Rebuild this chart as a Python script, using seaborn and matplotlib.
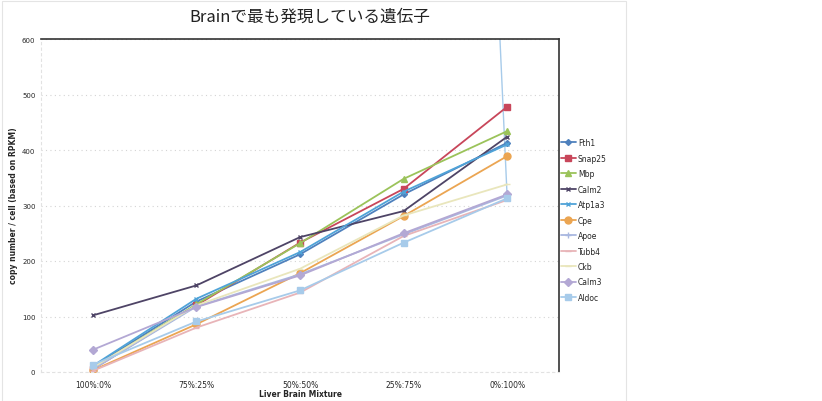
import matplotlib
matplotlib.use("Agg")
import matplotlib.pyplot as plt
from matplotlib.patches import Rectangle
import seaborn as sns
import pandas as pd

# Mixture ratios (Liver:Brain) along the x axis
mixtures = ["100%:0%", "75%:25%", "50%:50%", "25%:75%", "0%:100%"]

# Copy number per cell (based on RPKM) for each gene
genes = ["Fth1", "Snap25", "Mbp", "Calm2", "Atp1a3", "Cpe",
         "Apoe", "Tubb4", "Ckb", "Calm3", "Aldoc"]
fth1 = [9, 127, 212, 320, 413]
snap25 = [5, 120, 233, 330, 478]
mbp = [7, 122, 232, 348, 434]
calm2 = [102, 156, 243, 290, 424]
atp1a3 = [11, 132, 216, 325, 410]
cpe = [3, 86, 178, 281, 389]
apoe = [5, 118, 176, 248, 318]
tubb4 = [2, 80, 143, 245, 310]
ckb = [8, 120, 186, 282, 338]
calm3 = [40, 117, 174, 250, 320]
aldoc = [13, 91, 147, 233, 313]
series = [fth1, snap25, mbp, calm2, atp1a3, cpe, apoe, tubb4, ckb, calm3, aldoc]

# Stray vertical stroke near the last category (Aldoc colour)
stray_top = 600
stray_bottom = 313

colors = {
    "Fth1": "#4F81BD", "Snap25": "#C8465A", "Mbp": "#9BC35A",
    "Calm2": "#4E4466", "Atp1a3": "#4FA3D8", "Cpe": "#EBA552",
    "Apoe": "#A9B8E0", "Tubb4": "#E8B4B8", "Ckb": "#E9E6BC",
    "Calm3": "#B3A8D4", "Aldoc": "#A7CBEA",
}
markers = {
    "Fth1": "D", "Snap25": "s", "Mbp": "^", "Calm2": "x", "Atp1a3": "x",
    "Cpe": "o", "Apoe": "+", "Tubb4": "_", "Ckb": "_", "Calm3": "D",
    "Aldoc": "s",
}
sizes = {
    "Fth1": 3, "Snap25": 5, "Mbp": 5, "Calm2": 3, "Atp1a3": 3, "Cpe": 5,
    "Apoe": 4, "Tubb4": 4, "Ckb": 4, "Calm3": 4, "Aldoc": 5,
}

rows = []
for g, vals in zip(genes, series):
    for i, (m, v) in enumerate(zip(mixtures, vals)):
        rows.append({"gene": g, "pos": i, "mixture": m, "value": v})
df = pd.DataFrame(rows)

sns.set_theme(style="white")
plt.rcParams["font.family"] = ["Noto Sans CJK JP", "DejaVu Sans"]

fig = plt.figure(figsize=(8.22, 4.02), dpi=100)
ax = fig.add_axes([41 / 822, 1 - 373 / 402, (559 - 41) / 822, (373 - 40) / 402])

for g in genes:
    sub = df[df["gene"] == g]
    sns.lineplot(data=sub, x="pos", y="value", ax=ax, color=colors[g],
                 marker=markers[g], markersize=sizes[g], linewidth=1.3,
                 markeredgecolor=colors[g], markeredgewidth=1.0, label=g,
                 legend=False)

ax.plot([len(mixtures) - 1 - 0.07, len(mixtures) - 1],
        [stray_top, stray_bottom], color=colors["Aldoc"], lw=1.0, zorder=1)

ax.set_xlim(-0.5, len(mixtures) - 0.5)
ax.set_ylim(0, 600)
ax.set_yticks(range(0, 601, 100))
ax.set_xticks(range(len(mixtures)))
ax.set_xticklabels(mixtures, fontsize=5.5, family="DejaVu Sans")
ax.tick_params(axis="y", labelsize=5, length=0, pad=4)
ax.tick_params(axis="x", length=0, pad=6)
for lab in ax.get_yticklabels():
    lab.set_family("DejaVu Sans")

ax.yaxis.grid(True, linestyle=(0, (1, 3)), color="#d4d4d4", linewidth=0.8)
ax.set_axisbelow(True)

for side in ["top", "right"]:
    ax.spines[side].set_color("#333333")
    ax.spines[side].set_linewidth(1.2)
for side in ["left", "bottom"]:
    ax.spines[side].set_color("#e2e2e2")
    ax.spines[side].set_linewidth(0.8)
    ax.spines[side].set_linestyle((0, (2, 3)))

ax.set_xlabel("")
ax.set_ylabel("")
fig.text(300 / 822, 1 - 395 / 402, "Liver Brain Mixture", ha="center",
         va="center", fontsize=5.5, fontweight="bold", family="DejaVu Sans")
fig.text(14 / 822, 1 - 206 / 402, "copy number / cell (based on RPKM)",
         ha="center", va="center", rotation=90, fontsize=5.5,
         fontweight="bold", family="DejaVu Sans")

fig.text(310 / 822, 1 - 17 / 402, "Brainで最も発現している遺伝子",
         ha="center", va="center", fontsize=12, color="#222222")

handles, labels = ax.get_legend_handles_labels()
fig.legend(handles, labels, loc="upper left",
           bbox_to_anchor=(558 / 822, 1 - 136 / 402), frameon=False,
           prop={"family": "DejaVu Sans", "size": 5.5},
           labelspacing=0.85, handlelength=1.9, handletextpad=0.3,
           borderaxespad=0)

# Outer chart-area outline
fig.patches.append(Rectangle((0.002, 0.0), 624 / 822, 0.995,
                             transform=fig.transFigure, fill=False,
                             edgecolor="#e4e4e4", linewidth=0.8))

fig.savefig("out.png", dpi=100)
